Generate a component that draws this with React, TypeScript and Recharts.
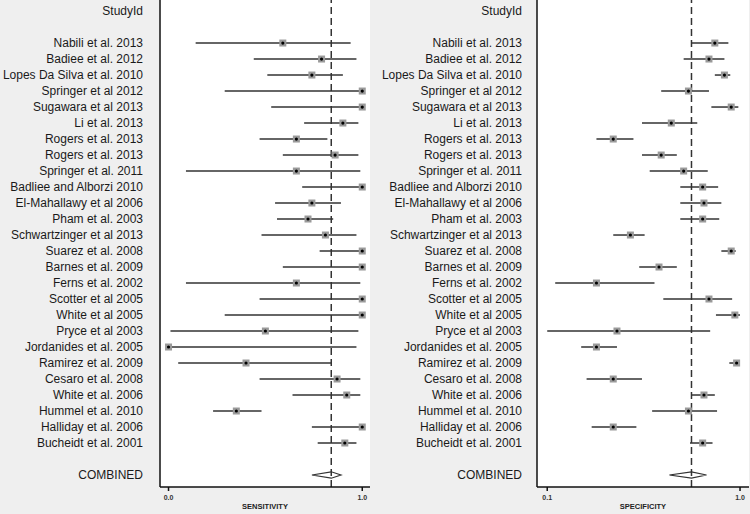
import {
  ScatterChart,
  Scatter,
  XAxis,
  YAxis,
  ErrorBar,
  ReferenceLine,
  CartesianGrid,
} from "recharts";

const studies = [
  "Nabili et al. 2013",
  "Badiee et al. 2012",
  "Lopes Da Silva et al. 2010",
  "Springer et al 2012",
  "Sugawara et al 2013",
  "Li et al. 2013",
  "Rogers et al. 2013",
  "Rogers et al. 2013",
  "Springer et al. 2011",
  "Badliee and Alborzi 2010",
  "El-Mahallawy et al 2006",
  "Pham et al. 2003",
  "Schwartzinger et al 2013",
  "Suarez et al. 2008",
  "Barnes et al. 2009",
  "Ferns et al. 2002",
  "Scotter et al 2005",
  "White et al 2005",
  "Pryce et al 2003",
  "Jordanides et al. 2005",
  "Ramirez et al. 2009",
  "Cesaro et al. 2008",
  "White et al. 2006",
  "Hummel et al. 2010",
  "Halliday et al. 2006",
  "Bucheidt et al. 2001",
];

const sensEst = [0.59, 0.79, 0.74, 1.0, 1.0, 0.9, 0.66, 0.86, 0.66, 1.0, 0.74, 0.72, 0.81, 1.0, 1.0, 0.66, 1.0, 1.0, 0.5, 0.0, 0.4, 0.87, 0.92, 0.35, 1.0, 0.91];
const sensLo = [0.14, 0.44, 0.51, 0.29, 0.53, 0.7, 0.47, 0.59, 0.09, 0.69, 0.55, 0.56, 0.48, 0.78, 0.59, 0.09, 0.47, 0.29, 0.01, 0.0, 0.05, 0.47, 0.64, 0.23, 0.74, 0.77];
const sensHi = [0.94, 0.97, 0.9, 1.0, 1.0, 0.98, 0.82, 0.98, 0.99, 1.0, 0.89, 0.85, 0.97, 1.0, 1.0, 0.99, 1.0, 1.0, 0.98, 0.97, 0.84, 0.99, 0.99, 0.48, 1.0, 0.97];
const sensCombined = [0.84, 0.74, 0.89];

const specEst = [0.74, 0.69, 0.83, 0.54, 0.9, 0.44, 0.22, 0.39, 0.51, 0.64, 0.65, 0.64, 0.27, 0.9, 0.38, 0.18, 0.69, 0.94, 0.23, 0.18, 0.96, 0.22, 0.65, 0.54, 0.22, 0.64];
const specLo = [0.56, 0.51, 0.74, 0.39, 0.71, 0.31, 0.18, 0.31, 0.34, 0.49, 0.49, 0.49, 0.22, 0.8, 0.3, 0.11, 0.4, 0.75, 0.1, 0.15, 0.88, 0.16, 0.56, 0.35, 0.17, 0.55];
const specHi = [0.87, 0.83, 0.89, 0.69, 0.98, 0.6, 0.28, 0.47, 0.68, 0.77, 0.8, 0.78, 0.32, 0.95, 0.47, 0.36, 0.91, 1.0, 0.7, 0.23, 1.0, 0.31, 0.74, 0.76, 0.29, 0.72];
const specCombined = [0.56, 0.43, 0.67];

const HEADER_ROW = -2;
const COMBINED_ROW = 27;
const FONT = "Liberation Sans, Arial, sans-serif";

const rowLabel = (row: number) => {
  if (row === HEADER_ROW) return "StudyId";
  if (row === COMBINED_ROW) return "COMBINED";
  return studies[row] ?? "";
};
const rowTicks = [HEADER_ROW, ...studies.map((_, i) => i), COMBINED_ROW];

// plain svg text so long study names don't get wrapped
function RowTick(props: any) {
  const { x, y, payload } = props;
  return (
    <text x={x} y={y} dy="0.35em" textAnchor="end" fontSize={12} fill="#1a1a1a" fontFamily={FONT}>
      {rowLabel(payload.value)}
    </text>
  );
}

function Marker(props: any) {
  const { cx, cy } = props;
  if (cx == null || cy == null) return <g />;
  return (
    <g>
      <rect x={cx - 3.5} y={cy - 3.5} width={7} height={7} fill="#9a9a9a" />
      <circle cx={cx} cy={cy} r={1.6} fill="#000" />
    </g>
  );
}

interface PanelProps {
  est: number[];
  lo: number[];
  hi: number[];
  combined: number[];
  domain: [number, number];
  scale: "linear" | "log";
  xTicks: number[];
  title: string;
  yWidth: number;
  labelGap: number;
  rightMargin: number;
}

function Panel({ est, lo, hi, combined, domain, scale, xTicks, title, yWidth, labelGap, rightMargin }: PanelProps) {
  const points = studies.map((_, i) => ({
    row: i,
    x: est[i],
    err: [est[i] - lo[i], hi[i] - est[i]],
  }));
  const [cEst, cLo, cHi] = combined;
  const diamond = [
    { row: COMBINED_ROW, x: cLo },
    { row: COMBINED_ROW - 0.2, x: cEst },
    { row: COMBINED_ROW, x: cHi },
    { row: COMBINED_ROW + 0.2, x: cEst },
    { row: COMBINED_ROW, x: cLo },
  ];

  return (
    <ScatterChart width={375} height={514} margin={{ top: 0, right: rightMargin, bottom: 0, left: 0 }}>
      <CartesianGrid fill="#ffffff" horizontal={false} vertical={false} />
      <XAxis
        type="number"
        dataKey="x"
        scale={scale}
        domain={domain}
        allowDataOverflow
        ticks={xTicks}
        tickFormatter={(v: number) => v.toFixed(1)}
        height={27}
        stroke="#111"
        strokeWidth={1.5}
        tickSize={4}
        tickMargin={4}
        tick={{ fontSize: 7, fill: "#333", fontWeight: "bold", fontFamily: FONT }}
        label={{ value: title, position: "insideBottom", offset: 5, fontSize: 7.5, fill: "#222", fontWeight: "bold", fontFamily: FONT }}
      />
      <YAxis
        type="number"
        dataKey="row"
        reversed
        domain={[-2.69, 27.75]}
        allowDataOverflow
        ticks={rowTicks}
        interval={0}
        width={yWidth}
        stroke="#111"
        strokeWidth={1.5}
        tickLine={false}
        tickSize={0}
        tickMargin={labelGap}
        tick={<RowTick />}
      />
      <ReferenceLine x={cEst} stroke="#333" strokeWidth={1.5} strokeDasharray="7 4" />
      <Scatter data={points} shape={<Marker />} isAnimationActive={false}>
        <ErrorBar dataKey="err" direction="x" width={0} stroke="#333" strokeWidth={1.5} />
      </Scatter>
      <Scatter
        data={diamond}
        line={{ stroke: "#333", strokeWidth: 1.2 }}
        lineType="joint"
        shape={() => <g />}
        isAnimationActive={false}
      />
    </ScatterChart>
  );
}

export default function App() {
  return (
    <div style={{ width: 750, height: 514, background: "#efefef", display: "flex" }}>
      <style>{`body{margin:0}`}</style>
      <Panel
        est={sensEst}
        lo={sensLo}
        hi={sensHi}
        combined={sensCombined}
        domain={[-0.044, 1.04]}
        scale="linear"
        xTicks={[0, 1]}
        title="SENSITIVITY"
        yWidth={160}
        labelGap={17}
        rightMargin={5}
      />
      <Panel
        est={specEst}
        lo={specLo}
        hi={specHi}
        combined={specCombined}
        domain={[0.0885, 1.113]}
        scale="log"
        xTicks={[0.1, 1]}
        title="SPECIFICITY"
        yWidth={162}
        labelGap={15}
        rightMargin={1}
      />
    </div>
  );
}
